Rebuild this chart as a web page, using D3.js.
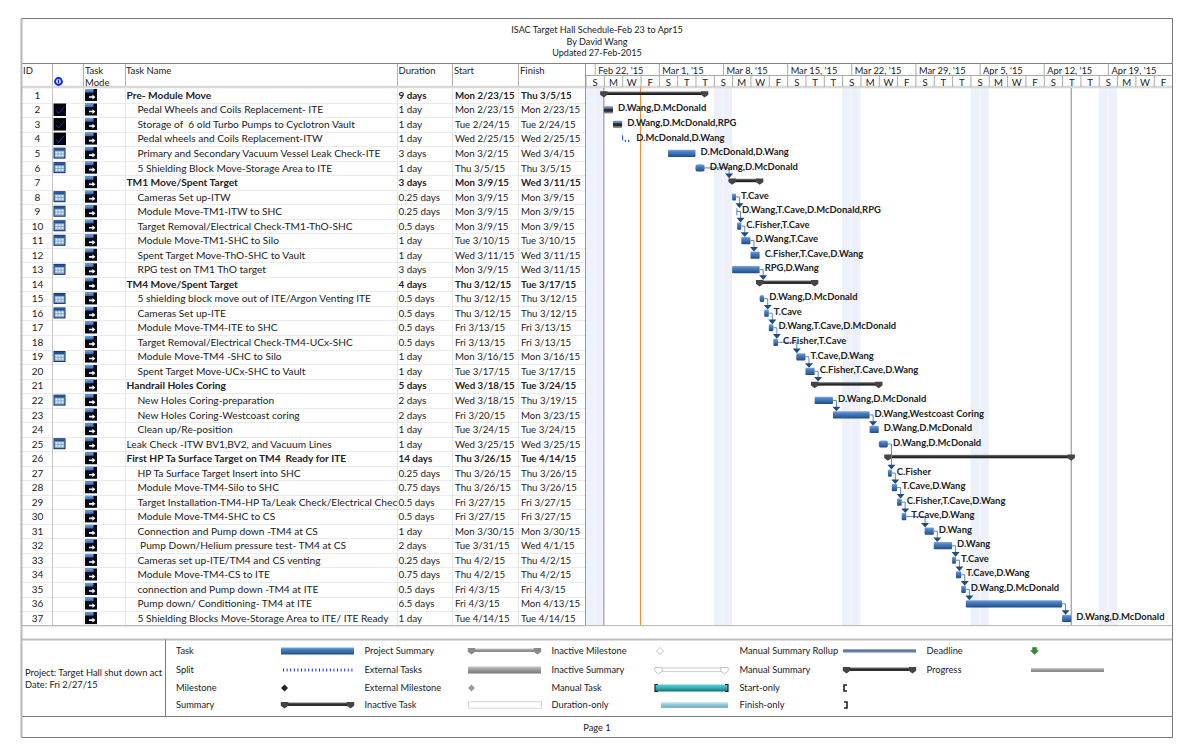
<!DOCTYPE html>
<html>
<head>
<meta charset="utf-8">
<script src="https://cdn.jsdelivr.net/npm/d3@7"></script>
<style>
  html, body { margin: 0; padding: 0; background: #fff; }
  svg { display: block; }
  text { font-family: Lato, "Open Sans", sans-serif; fill: #222; }
</style>
</head>
<body>
<div id="chart"></div>
<script>
/**
 * Schedule data, one array per column.
 */
const taskNames = [
  "Pre- Module Move", "Pedal Wheels and Coils Replacement- ITE", "Storage of  6 old Turbo Pumps to Cyclotron Vault",
  "Pedal wheels and Coils Replacement-ITW", "Primary and Secondary Vacuum Vessel Leak Check-ITE", "5 Shielding Block Move-Storage Area to ITE",
  "TM1 Move/Spent Target", "Cameras Set up-ITW", "Module Move-TM1-ITW to SHC", "Target Removal/Electrical Check-TM1-ThO-SHC",
  "Module Move-TM1-SHC to Silo", "Spent Target Move-ThO-SHC to Vault", "RPG test on TM1 ThO target",
  "TM4 Move/Spent Target", "5 shielding block move out of ITE/Argon Venting ITE", "Cameras Set up-ITE", "Module Move-TM4-ITE to SHC",
  "Target Removal/Electrical Check-TM4-UCx-SHC", "Module Move-TM4 -SHC to Silo", "Spent Target Move-UCx-SHC to Vault",
  "Handrail Holes Coring", "New Holes Coring-preparation", "New Holes Coring-Westcoast coring", "Clean up/Re-position",
  "Leak Check -ITW BV1,BV2, and Vacuum Lines", "First HP Ta Surface Target on TM4  Ready for ITE", "HP Ta Surface Target Insert into SHC",
  "Module Move-TM4-Silo to SHC", "Target Installation-TM4-HP Ta/Leak Check/Electrical Check", "Module Move-TM4-SHC to CS",
  "Connection and Pump down -TM4 at CS", " Pump Down/Helium pressure test- TM4 at CS", "Cameras set up-ITE/TM4 and CS venting",
  "Module Move-TM4-CS to ITE", "connection and Pump down -TM4 at ITE", "Pump down/ Conditioning- TM4 at ITE",
  "5 Shielding Blocks Move-Storage Area to ITE/ ITE Ready"
];
const durations = [
  "9 days", "1 day", "1 day", "1 day", "3 days", "1 day", "3 days", "0.25 days", "0.25 days", "0.5 days", "1 day", "1 day", "3 days",
  "4 days", "0.5 days", "0.5 days", "0.5 days", "0.5 days", "1 day", "1 day", "5 days", "2 days", "2 days", "1 day", "1 day", "14 days",
  "0.25 days", "0.75 days", "0.5 days", "0.5 days", "1 day", "2 days", "0.25 days", "0.75 days", "0.5 days", "6.5 days", "1 day"
];
const startLabels = [
  "Mon 2/23/15", "Mon 2/23/15", "Tue 2/24/15", "Wed 2/25/15", "Mon 3/2/15", "Thu 3/5/15", "Mon 3/9/15", "Mon 3/9/15", "Mon 3/9/15",
  "Mon 3/9/15", "Tue 3/10/15", "Wed 3/11/15", "Mon 3/9/15", "Thu 3/12/15", "Thu 3/12/15", "Thu 3/12/15", "Fri 3/13/15", "Fri 3/13/15",
  "Mon 3/16/15", "Tue 3/17/15", "Wed 3/18/15", "Wed 3/18/15", "Fri 3/20/15", "Tue 3/24/15", "Wed 3/25/15", "Thu 3/26/15", "Thu 3/26/15",
  "Thu 3/26/15", "Fri 3/27/15", "Fri 3/27/15", "Mon 3/30/15", "Tue 3/31/15", "Thu 4/2/15", "Thu 4/2/15", "Fri 4/3/15", "Fri 4/3/15", "Tue 4/14/15"
];
const finishLabels = [
  "Thu 3/5/15", "Mon 2/23/15", "Tue 2/24/15", "Wed 2/25/15", "Wed 3/4/15", "Thu 3/5/15", "Wed 3/11/15", "Mon 3/9/15", "Mon 3/9/15",
  "Mon 3/9/15", "Tue 3/10/15", "Wed 3/11/15", "Wed 3/11/15", "Tue 3/17/15", "Thu 3/12/15", "Thu 3/12/15", "Fri 3/13/15", "Fri 3/13/15",
  "Mon 3/16/15", "Tue 3/17/15", "Tue 3/24/15", "Thu 3/19/15", "Mon 3/23/15", "Tue 3/24/15", "Wed 3/25/15", "Tue 4/14/15", "Thu 3/26/15",
  "Thu 3/26/15", "Fri 3/27/15", "Fri 3/27/15", "Mon 3/30/15", "Wed 4/1/15", "Thu 4/2/15", "Thu 4/2/15", "Fri 4/3/15", "Mon 4/13/15", "Tue 4/14/15"
];
const barStarts = [
  "02-23 00", "02-23 00", "02-24 00", "02-25 00", "03-02 00", "03-05 00", "03-09 00", "03-09 00", "03-09 10", "03-09 13", "03-10 00",
  "03-11 00", "03-09 00", "03-12 00", "03-12 00", "03-12 12", "03-13 00", "03-13 12", "03-16 00", "03-17 00", "03-18 00", "03-18 00",
  "03-20 00", "03-24 00", "03-25 00", "03-26 00", "03-26 00", "03-26 10", "03-27 00", "03-27 12", "03-30 00", "03-31 00", "04-02 00",
  "04-02 10", "04-03 00", "04-03 12", "04-14 00"
];
const barEnds = [
  "03-06 00", "02-24 00", "02-25 00", "02-26 00", "03-05 00", "03-06 00", "03-12 00", "03-09 10", "03-09 13", "03-10 00", "03-11 00",
  "03-12 00", "03-12 00", "03-18 00", "03-12 12", "03-13 00", "03-13 12", "03-14 00", "03-17 00", "03-18 00", "03-25 00", "03-20 00",
  "03-24 00", "03-25 00", "03-26 00", "04-15 00", "03-26 10", "03-27 00", "03-27 12", "03-28 00", "03-31 00", "04-02 00", "04-02 10",
  "04-03 00", "04-03 12", "04-14 00", "04-15 00"
];
const resources = [
  "", "D.Wang,D.McDonald", "D.Wang,D.McDonald,RPG", "D.McDonald,D.Wang", "D.McDonald,D.Wang", "D.Wang,D.McDonald", "", "T.Cave",
  "D.Wang,T.Cave,D.McDonald,RPG", "C.Fisher,T.Cave", "D.Wang,T.Cave", "C.Fisher,T.Cave,D.Wang", "RPG,D.Wang", "", "D.Wang,D.McDonald",
  "T.Cave", "D.Wang,T.Cave,D.McDonald", "C.Fisher,T.Cave", "T.Cave,D.Wang", "C.Fisher,T.Cave,D.Wang", "", "D.Wang,D.McDonald",
  "D.Wang,Westcoast Coring", "D.Wang,D.McDonald", "D.Wang,D.McDonald", "", "C.Fisher", "T.Cave,D.Wang", "C.Fisher,T.Cave,D.Wang",
  "T.Cave,D.Wang", "D.Wang", "D.Wang", "T.Cave", "T.Cave,D.Wang", "D.Wang,D.McDonald", "", "D.Wang,D.McDonald"
];
const summaryRows = [1, 7, 14, 21, 26];
const flatRows = [1, 7, 14, 21, 25, 26];       // no indent on the name
const doneRows = [2, 3];
const splitRows = [4, 9];
const roundRows = [6, 15, 25];
const checkRows = [2, 3, 4];
const calendarRows = [5, 6, 8, 9, 10, 11, 13, 15, 16, 19, 22, 25];

// [predecessor row, successor row]
const links = [
  [6, 7], [8, 9], [9, 10], [10, 11], [11, 12], [13, 14], [15, 16], [16, 17], [17, 18], [18, 19], [19, 20], [20, 21],
  [22, 23], [23, 24], [25, 27], [27, 28], [28, 29], [29, 30], [30, 31], [31, 32], [32, 33], [33, 34], [34, 35], [35, 36], [36, 37]
];

const weekDates = ["2015-02-22", "2015-03-01", "2015-03-08", "2015-03-15", "2015-03-22", "2015-03-29", "2015-04-05", "2015-04-12", "2015-04-19"];
const weekLabels = ["Feb 22, '15", "Mar 1, '15", "Mar 8, '15", "Mar 15, '15", "Mar 22, '15", "Mar 29, '15", "Apr 5, '15", "Apr 12, '15", "Apr 19, '15"];
const shadedWeekends = ["2015-02-21", "2015-03-07", "2015-03-21", "2015-04-04", "2015-04-18"];
const titleLines = ["ISAC Target Hall Schedule-Feb 23 to Apr15", "By David Wang", "Updated 27-Feb-2015"];
const legendColumns = [
  ["Task", "Split", "Milestone", "Summary"],
  ["Project Summary", "External Tasks", "External Milestone", "Inactive Task"],
  ["Inactive Milestone", "Inactive Summary", "Manual Task", "Duration-only"],
  ["Manual Summary Rollup", "Manual Summary", "Start-only", "Finish-only"],
  ["Deadline", "Progress"]
];

/**
 * Layout.
 */
const width = 1194, height = 756;
const frame = { left: 21.5, right: 1172.5, top: 18.5, bottom: 737.5 };
const headTop = 63.5, tierY = 75.5, rowsTop = 88, rowH = 14.53, rowsBottom = rowsTop + 37 * rowH;
const ganttLeft = 585.5;
const columnX = [52.5, 83.5, 125.5, 397.5, 452.5, 518.5];
const barH = 7.2;
const legendTop = 639.5, legendBottom = 716.5;
const legendRowY = [651, 670, 688, 705];
const legendTextX = [176, 364.5, 551.5, 739.5, 926.5];
const legendMarkX = [281, 468, 655, 843, 1031];
const legendMarkW = 73;
const smallFont = 9.3;

const parseBar = d3.utcParse("%Y %m-%d %H");
const barDate = s => parseBar("2015 " + s);
const parseDay = d3.utcParse("%Y-%m-%d");

const x = d3.scaleUtc()
  .domain([parseDay("2015-02-21"), parseDay("2015-04-26")])
  .range([ganttLeft, ganttLeft + 64 * 9.165]);

const rowTop = n => rowsTop + (n - 1) * rowH;
const rowMid = n => rowTop(n) + rowH / 2;

const svg = d3.select("#chart").append("svg").attr("width", width).attr("height", height);
const defs = svg.append("defs");

const addGradient = (id, stops) => {
  defs.append("linearGradient").attr("id", id).attr("x1", 0).attr("y1", 0).attr("x2", 0).attr("y2", 1)
    .selectAll("stop").data(stops).enter().append("stop")
      .attr("offset", d => d[0]).attr("stop-color", d => d[1]);
};
addGradient("taskFill", [[0, "#7da7dc"], [0.3, "#4d7fc0"], [0.75, "#2f609f"], [1, "#1c4a86"]]);
addGradient("doneFill", [[0, "#6f9ad0"], [0.3, "#5c7fa8"], [0.4, "#2c2c2c"], [0.7, "#2c2c2c"], [0.8, "#6b6b6b"], [1, "#9a9a9a"]]);
addGradient("summaryFill", [[0, "#777"], [0.5, "#333"], [1, "#111"]]);
addGradient("greyFill", [[0, "#c8c8c8"], [0.5, "#999"], [1, "#777"]]);
addGradient("tealFill", [[0, "#59d0dc"], [0.5, "#35aeb8"], [1, "#116b72"]]);
addGradient("paleFill", [[0, "#d5ecf3"], [0.5, "#8cc4d6"], [1, "#6fb2c8"]]);
addGradient("rollupFill", [[0, "#7f96b8"], [0.5, "#4f6c94"], [1, "#aab8cc"]]);
addGradient("iconBlue", [[0, "#6ea6e0"], [1, "#2f68b0"]]);

defs.append("clipPath").attr("id", "nameClip").append("rect")
  .attr("x", columnX[2]).attr("y", rowsTop).attr("width", columnX[3] - columnX[2]).attr("height", rowsBottom - rowsTop);

const hLine = (g, y, x1, x2, color, w) =>
  g.append("line").attr("x1", x1).attr("x2", x2).attr("y1", y).attr("y2", y).attr("stroke", color).attr("stroke-width", w || 1);
const vLine = (g, xPos, y1, y2, color, w) =>
  g.append("line").attr("x1", xPos).attr("x2", xPos).attr("y1", y1).attr("y2", y2).attr("stroke", color).attr("stroke-width", w || 1);

/**
 * Title block and frame.
 */
const drawTitle = () => {
  const g = svg.append("g").attr("class", "title");
  g.selectAll("text").data(titleLines).enter().append("text")
    .attr("x", 597).attr("y", (d, i) => 33 + i * 11.7)
    .attr("text-anchor", "middle").attr("font-size", 9.1).text(d => d);
};

/**
 * Task sheet on the left.
 */
const drawTableGrid = () => {
  const g = svg.append("g").attr("class", "grid");
  d3.range(1, 38).forEach(n => hLine(g, Math.round(rowTop(n) + rowH) + 0.5, frame.left, ganttLeft, "#ebebeb"));
  columnX.forEach(c => vLine(g, c, rowsTop, rowsBottom, "#e6e6e6"));
  vLine(g, columnX[0], rowsTop, rowsBottom, "#c4c4c4");
  columnX.forEach(c => vLine(g, c, headTop, rowsTop, "#b0b0b0"));
  hLine(g, 87, frame.left, frame.right, "#d8d8d8", 2.4);
  hLine(g, headTop, frame.left, frame.right, "#808080", 1.2);
};

const drawTableHead = () => {
  const g = svg.append("g").attr("class", "head");
  const head = [["ID", 23, 74], ["Task", 85, 74], ["Mode", 85, 85.5], ["Task Name", 126, 74], ["Duration", 398.5, 74], ["Start", 454, 74], ["Finish", 520, 74]];
  g.selectAll("text").data(head).enter().append("text")
    .attr("x", d => d[1]).attr("y", d => d[2]).attr("font-size", 9.5).text(d => d[0]);
  const info = g.append("g").attr("transform", "translate(58.5,81.5)");
  info.append("circle").attr("r", 3.4).attr("fill", "#fff").attr("stroke", "#0a28d8").attr("stroke-width", 2);
  info.append("rect").attr("x", -0.7).attr("y", -2).attr("width", 1.4).attr("height", 4).attr("fill", "#0a28d8");
};

const drawModeIcon = (g, n) => {
  const y = rowTop(n) + 1;
  const icon = g.append("g").attr("transform", `translate(85,${y})`);
  icon.append("rect").attr("width", 12).attr("height", 12).attr("fill", "#050814");
  icon.append("rect").attr("width", 8.5).attr("height", 3.6).attr("fill", "url(#iconBlue)");
  icon.append("path").attr("d", "M4,7.2 H7.4 V5.6 L10.4,8 L7.4,10.4 V8.8 H4 Z").attr("fill", "#fff");
};

const drawCheckIcon = (g, n) => {
  const icon = g.append("g").attr("transform", `translate(53.5,${rowTop(n) + 1})`);
  icon.append("rect").attr("width", 12.5).attr("height", 12.5).attr("fill", "#04040c");
  icon.append("path").attr("d", "M3,7 L5,10 L11,3").attr("fill", "none").attr("stroke", "#1034c8").attr("stroke-width", 0.9);
};

const drawCalendarIcon = (g, n) => {
  const icon = g.append("g").attr("transform", `translate(53.5,${rowTop(n) + 1.5})`);
  icon.append("rect").attr("width", 12).attr("height", 11).attr("fill", "#12305c");
  icon.append("rect").attr("x", 1).attr("y", 1).attr("width", 10).attr("height", 9).attr("fill", "#7fa6d6");
  icon.append("rect").attr("x", 1).attr("y", 1).attr("width", 10).attr("height", 2).attr("fill", "#1e4f94");
  d3.range(2).forEach(r => d3.range(3).forEach(c => {
    icon.append("rect").attr("x", 2 + c * 3).attr("y", 4 + r * 2.8).attr("width", 2).attr("height", 1.8).attr("fill", "#e8f0fa");
  }));
};

const drawTableRows = () => {
  const g = svg.append("g").attr("class", "rows");
  const rows = taskNames.map((name, i) => ({ n: i + 1, name }));
  const isBold = d => summaryRows.includes(d.n);
  const textY = d => rowMid(d.n) + 3.6;

  g.selectAll(".id").data(rows).enter().append("text").attr("class", "id")
    .attr("x", 37.5).attr("y", textY).attr("text-anchor", "middle").attr("font-size", 10).text(d => d.n);

  g.append("g").attr("clip-path", "url(#nameClip)")
    .selectAll("text").data(rows).enter().append("text")
      .style("white-space", "pre")
      .attr("x", d => flatRows.includes(d.n) ? 126.5 : 137.5).attr("y", textY)
      .attr("font-size", 10.2)
      .attr("font-weight", d => isBold(d) ? "bold" : null).text(d => d.name);

  const columns = [[durations, 398.5, 9.9], [startLabels, 455, 9.7], [finishLabels, 521, 9.7]];
  columns.forEach(([values, cx, size]) => {
    g.append("g").selectAll("text").data(rows).enter().append("text")
      .attr("x", cx).attr("y", textY).attr("font-size", size)
      .attr("font-weight", d => isBold(d) ? "bold" : null)
      .text(d => values[d.n - 1]);
  });

  const icons = svg.append("g").attr("class", "icons");
  rows.forEach(d => {
    drawModeIcon(icons, d.n);
    if (checkRows.includes(d.n)) drawCheckIcon(icons, d.n);
    if (calendarRows.includes(d.n)) drawCalendarIcon(icons, d.n);
  });
};

/**
 * Gantt timescale.
 */
const drawTimescale = () => {
  const g = svg.append("g").attr("class", "timescale");

  const weekAxis = d3.axisTop(x)
    .tickValues(weekDates.map(parseDay))
    .tickFormat((d, i) => weekLabels[i])
    .tickSize(12).tickSizeOuter(0).tickPadding(0);
  const top = g.append("g").attr("transform", `translate(0,${tierY})`).call(weekAxis);
  top.select(".domain").remove();
  top.selectAll("line").attr("stroke", "#aaa");
  top.selectAll("text").attr("text-anchor", "start").attr("x", 3).attr("y", -1.8)
    .attr("font-size", 9.3).attr("fill", "#222");

  const cells = d3.utcDay.range(parseDay("2015-02-21"), parseDay("2015-04-26"), 2);
  const dayAxis = d3.axisTop(x)
    .tickValues(cells)
    .tickFormat(d => d3.utcFormat("%a")(d)[0])
    .tickSize(11.5).tickSizeOuter(0).tickPadding(0);
  const bottom = g.append("g").attr("transform", `translate(0,${rowsTop - 1})`).call(dayAxis);
  bottom.select(".domain").remove();
  bottom.selectAll("line").attr("stroke", "#aaa");
  bottom.selectAll("text").attr("text-anchor", "middle").attr("x", 9.17).attr("y", -1.2)
    .attr("font-size", 9.6).attr("fill", "#222");

  hLine(g, tierY, ganttLeft, frame.right, "#aaa");
  vLine(g, ganttLeft, headTop, rowsBottom, "#999");
};

const drawWeekends = () => {
  const g = svg.append("g").attr("class", "weekends");
  shadedWeekends.map(parseDay).forEach(d => {
    const sun = d3.utcDay.offset(d, 1), mon = d3.utcDay.offset(d, 2);
    g.append("rect").attr("x", x(d)).attr("y", rowsTop).attr("width", x(mon) - x(d)).attr("height", rowsBottom - rowsTop).attr("fill", "#eef1f9");
    vLine(g, x(sun), rowsTop, rowsBottom, "#f4f6fb");
  });
};

const drawMarkerLines = () => {
  const g = svg.append("g").attr("class", "markers");
  vLine(g, x(parseDay("2015-02-23")), rowsTop, rowsBottom, "#9a9a9a", 1.2);
  vLine(g, x(parseDay("2015-04-15")), rowsTop, rowsBottom, "#9a9a9a", 1.2);
  vLine(g, x(parseDay("2015-02-27")), rowsTop - 1, rowsBottom, "#f0902c", 1.1);
};

/**
 * Gantt bars, links and resource labels.
 */
const capPath = (cx, y) => `M${cx - 3.7},${y} H${cx + 3.7} V${y + 3.6} L${cx},${y + 6.4} L${cx - 3.7},${y + 3.6} Z`;

const drawSummaryBar = (g, x1, x2, y, fill, capFill) => {
  g.append("rect").attr("x", x1).attr("y", y).attr("width", x2 - x1).attr("height", 3.4).attr("fill", fill);
  [x1, x2].forEach(cx => g.append("path").attr("d", capPath(cx, y - 0.4)).attr("fill", capFill || "#444"));
};

const drawSplit = (g, d) => {
  const y = rowMid(d.n);
  if (d.n === 4) {
    g.append("rect").attr("x", d.x1).attr("y", y - 3.5).attr("width", 1).attr("height", 5).attr("fill", "#2244c0");
    g.append("line").attr("x1", d.x1 + 2.6).attr("x2", d.x2 - 1).attr("y1", y + 2).attr("y2", y + 2)
      .attr("stroke", "#1434d0").attr("stroke-width", 2.4).attr("stroke-dasharray", "1,2.4");
  } else {
    g.append("rect").attr("x", d.x1 + 0.4).attr("y", y - 3.2).attr("width", 1).attr("height", 7).attr("fill", "#4c7fc0");
  }
};

const drawBars = () => {
  const g = svg.append("g").attr("class", "bars");
  const tasks = taskNames.map((name, i) => ({
    n: i + 1, x1: x(barDate(barStarts[i])), x2: x(barDate(barEnds[i]))
  }));
  tasks.forEach(d => {
    if (summaryRows.includes(d.n)) {
      drawSummaryBar(g, d.x1, d.x2, rowTop(d.n) + 3.6, "url(#summaryFill)");
    } else if (splitRows.includes(d.n)) {
      drawSplit(g, d);
    } else {
      g.append("rect").attr("x", d.x1).attr("y", rowMid(d.n) - barH / 2)
        .attr("width", d.x2 - d.x1).attr("height", barH)
        .attr("rx", roundRows.includes(d.n) ? 2.6 : 0.8)
        .attr("fill", doneRows.includes(d.n) ? "url(#doneFill)" : "url(#taskFill)");
    }
  });
  return tasks;
};

const drawLinks = (tasks) => {
  const g = svg.append("g").attr("class", "links");
  links.forEach(([from, to]) => {
    const a = tasks[from - 1], b = tasks[to - 1];
    const gapped = b.x1 - a.x2 > 6;
    const ax = gapped ? (summaryRows.includes(to) ? b.x1 - 3 : b.x1 + 0.5) : b.x1 + 3.5;
    const yTip = summaryRows.includes(to) ? rowTop(to) + 3 : rowMid(to) - barH / 2;
    g.append("path").attr("d", `M${a.x2},${rowMid(from)} H${ax} V${yTip - 3}`)
      .attr("fill", "none").attr("stroke", "#5f86b8").attr("stroke-width", 1);
    g.append("path").attr("d", `M${ax - 4},${yTip - 4.6} H${ax + 4} L${ax},${yTip} Z`).attr("fill", "#1f4a80");
  });
};

const drawResourceLabels = (tasks) => {
  const g = svg.append("g").attr("class", "resources");
  g.selectAll("text").data(tasks.filter(d => resources[d.n - 1])).enter().append("text")
    .attr("x", d => d.x2 + 5).attr("y", d => rowMid(d.n) + 1.7)
    .attr("font-size", 9.45).attr("font-weight", "bold").attr("fill", "#111")
    .text(d => resources[d.n - 1]);
};

/**
 * Legend and page footer.
 */
const drawLegendMarks = (g) => {
  const mx = legendMarkX, w = legendMarkW, y = legendRowY;
  const bar = (x0, yMid, h, fill, stroke) => g.append("rect").attr("x", x0).attr("y", yMid - h / 2)
    .attr("width", w).attr("height", h).attr("fill", fill).attr("stroke", stroke || "none");
  const diamond = (cx, cy, fill, stroke) => g.append("path")
    .attr("d", `M${cx},${cy - 3.5} L${cx + 3.5},${cy} L${cx},${cy + 3.5} L${cx - 3.5},${cy} Z`)
    .attr("fill", fill).attr("stroke", stroke || "none");

  // first symbol column
  bar(mx[0], y[0], 7, "url(#taskFill)");
  g.append("line").attr("x1", mx[0] + 2).attr("x2", mx[0] + w).attr("y1", y[1]).attr("y2", y[1])
    .attr("stroke", "#1434d0").attr("stroke-width", 3).attr("stroke-dasharray", "1,2.6");
  diamond(mx[0] + 3.5, y[2], "#222");
  drawSummaryBar(g, mx[0] + 3.5, mx[0] + w - 3.5, y[3] - 2.5, "url(#summaryFill)");

  // second symbol column
  drawSummaryBar(g, mx[1] + 3.5, mx[1] + w - 3.5, y[0] - 2.5, "url(#greyFill)", "#8a8a8a");
  bar(mx[1], y[1], 7, "url(#greyFill)");
  diamond(mx[1] + 3.5, y[2], "#999");
  bar(mx[1] + 0.5, y[3], 6.4, "#fff", "#d4d4d4");

  // third symbol column
  diamond(mx[2] + 5, y[0], "#fff", "#c4c4c4");
  g.append("rect").attr("x", mx[2] + 3.5).attr("y", y[1] - 2).attr("width", w - 7).attr("height", 3.4).attr("fill", "#fff").attr("stroke", "#ccc");
  [mx[2] + 3.5, mx[2] + w - 3.5].forEach(cx => g.append("path").attr("d", capPath(cx, y[1] - 2.5)).attr("fill", "#fff").attr("stroke", "#c4c4c4"));
  bar(mx[2], y[2], 7, "url(#tealFill)");
  g.append("path").attr("d", `M${mx[2] + 3},${y[2] - 3.5} H${mx[2]} V${y[2] + 3.5} H${mx[2] + 3}`).attr("fill", "none").attr("stroke", "#222").attr("stroke-width", 1.2);
  g.append("path").attr("d", `M${mx[2] + w - 3},${y[2] - 3.5} H${mx[2] + w} V${y[2] + 3.5} H${mx[2] + w - 3}`).attr("fill", "none").attr("stroke", "#222").attr("stroke-width", 1.2);
  g.append("rect").attr("x", mx[2] + 6).attr("y", y[3] - 3).attr("width", w - 6).attr("height", 6).attr("fill", "url(#paleFill)");

  // fourth symbol column
  bar(mx[3], y[0], 3.6, "url(#rollupFill)");
  drawSummaryBar(g, mx[3] + 3.5, mx[3] + w - 3.5, y[1] - 2.5, "url(#summaryFill)");
  g.append("path").attr("d", `M${mx[3] + 4},${y[2] - 3} H${mx[3] + 1} V${y[2] + 3} H${mx[3] + 4}`).attr("fill", "none").attr("stroke", "#222").attr("stroke-width", 1.6);
  g.append("path").attr("d", `M${mx[3] + 1},${y[3] - 3} H${mx[3] + 4} V${y[3] + 3} H${mx[3] + 1}`).attr("fill", "none").attr("stroke", "#222").attr("stroke-width", 1.6);

  // last symbol column
  g.append("path").attr("d", `M${mx[4] + 1.5},${y[0] - 3.5} h4 v3 h2 l-4,4 l-4,-4 h2 Z`).attr("fill", "#2e8b2e").attr("stroke", "#1d5a1d").attr("stroke-width", 0.4);
  bar(mx[4], y[1], 3.8, "url(#greyFill)");
};

const drawLegend = () => {
  const g = svg.append("g").attr("class", "legend");
  hLine(g, legendTop, frame.left, frame.right, "#bdbdbd", 2);
  hLine(g, legendBottom, frame.left, frame.right, "#7a7a7a");
  vLine(g, 165.5, legendTop, legendBottom, "#7a7a7a");

  legendColumns.forEach((labels, c) => {
    g.append("g").selectAll("text").data(labels).enter().append("text")
      .attr("x", legendTextX[c]).attr("y", (d, i) => legendRowY[i] + 3)
      .attr("font-size", smallFont).text(d => d);
  });
  drawLegendMarks(g);

  g.append("text").attr("x", 25).attr("y", 676).attr("font-size", smallFont).text("Project: Target Hall shut down act");
  g.append("text").attr("x", 25).attr("y", 688).attr("font-size", smallFont).text("Date: Fri 2/27/15");
  g.append("text").attr("x", 597).attr("y", 731).attr("text-anchor", "middle").attr("font-size", smallFont).text("Page 1");
};

const drawFrame = () => {
  const g = svg.append("g").attr("class", "frame");
  hLine(g, rowsBottom, frame.left, frame.right, "#b4b4b4");
  g.append("rect").attr("x", frame.left).attr("y", frame.top)
    .attr("width", frame.right - frame.left).attr("height", frame.bottom - frame.top)
    .attr("fill", "none").attr("stroke", "#7a7a7a");
  vLine(g, frame.left, frame.top, frame.bottom, "#b8b8b8", 2);
};

drawWeekends();
drawTableGrid();
drawTableHead();
drawTableRows();
drawTimescale();
drawMarkerLines();
const tasks = drawBars();
drawLinks(tasks);
drawResourceLabels(tasks);
drawTitle();
drawLegend();
drawFrame();
</script>
</body>
</html>
